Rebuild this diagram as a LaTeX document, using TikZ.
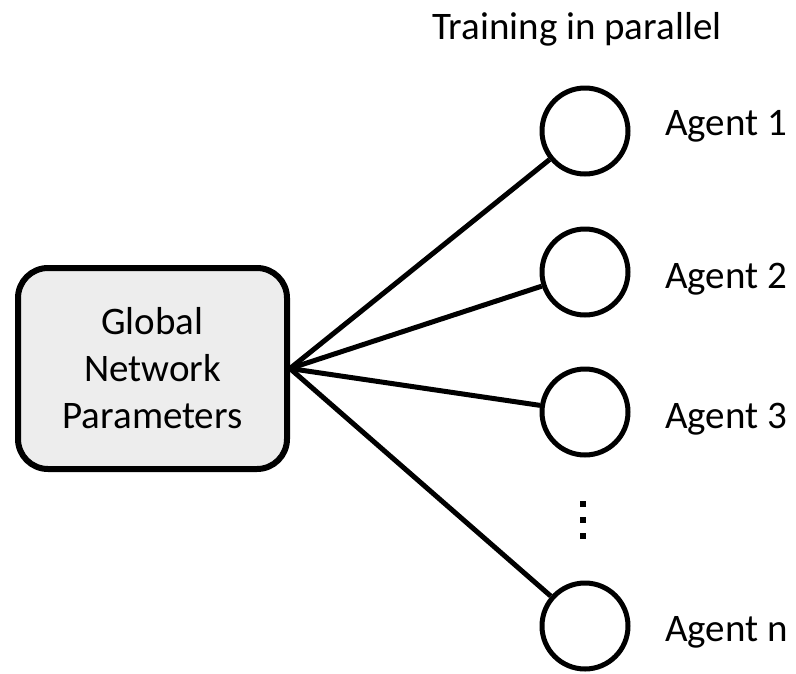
\documentclass[tikz,border=0pt]{standalone}
\usepackage{fontspec}
\setmainfont{Carlito}
\begin{document}
\begin{tikzpicture}[x=1pt,y=-1pt,
  every node/.style={font=\fontsize{39}{47}\selectfont},
  params/.style={draw=black, line width=6pt, fill=black!7, rounded corners=30pt,
    minimum width=269pt, minimum height=201pt, align=center, inner sep=0pt},
  agent/.style={draw=black, line width=5pt, circle, minimum size=86pt, inner sep=0pt},
  agentlabel/.style={anchor=base west, inner sep=0pt},
  link/.style={line width=5pt}
]
\useasboundingbox (0,0) rectangle (796,673);

% central parameter store
\node[params] (global) at (152.5,368.5) {Global\\Network\\Parameters};

% workers
\node[agent] (a1) at (585,131) {};
\node[agent] (a2) at (585,272) {};
\node[agent] (a3) at (585,412) {};
\node[agent] (an) at (585,626) {};

\node[agentlabel] (l1) at (665,135) {Agent 1};
\node[agentlabel] (l2) at (665,288) {Agent 2};
\node[agentlabel] (l3) at (665,428) {Agent 3};
\node[agentlabel] (ln) at (665,641) {Agent n};

\node[anchor=base west, inner sep=0pt] (title) at (432,39) {Training in parallel};

% connections
\foreach \a in {a1,a2,a3,an}
  \draw[link] (global.east) -- (\a);

% vertical ellipsis
\foreach \y in {504,520,536}
  \fill (580,\y-3) rectangle (586,\y+3);
\end{tikzpicture}
\end{document}
